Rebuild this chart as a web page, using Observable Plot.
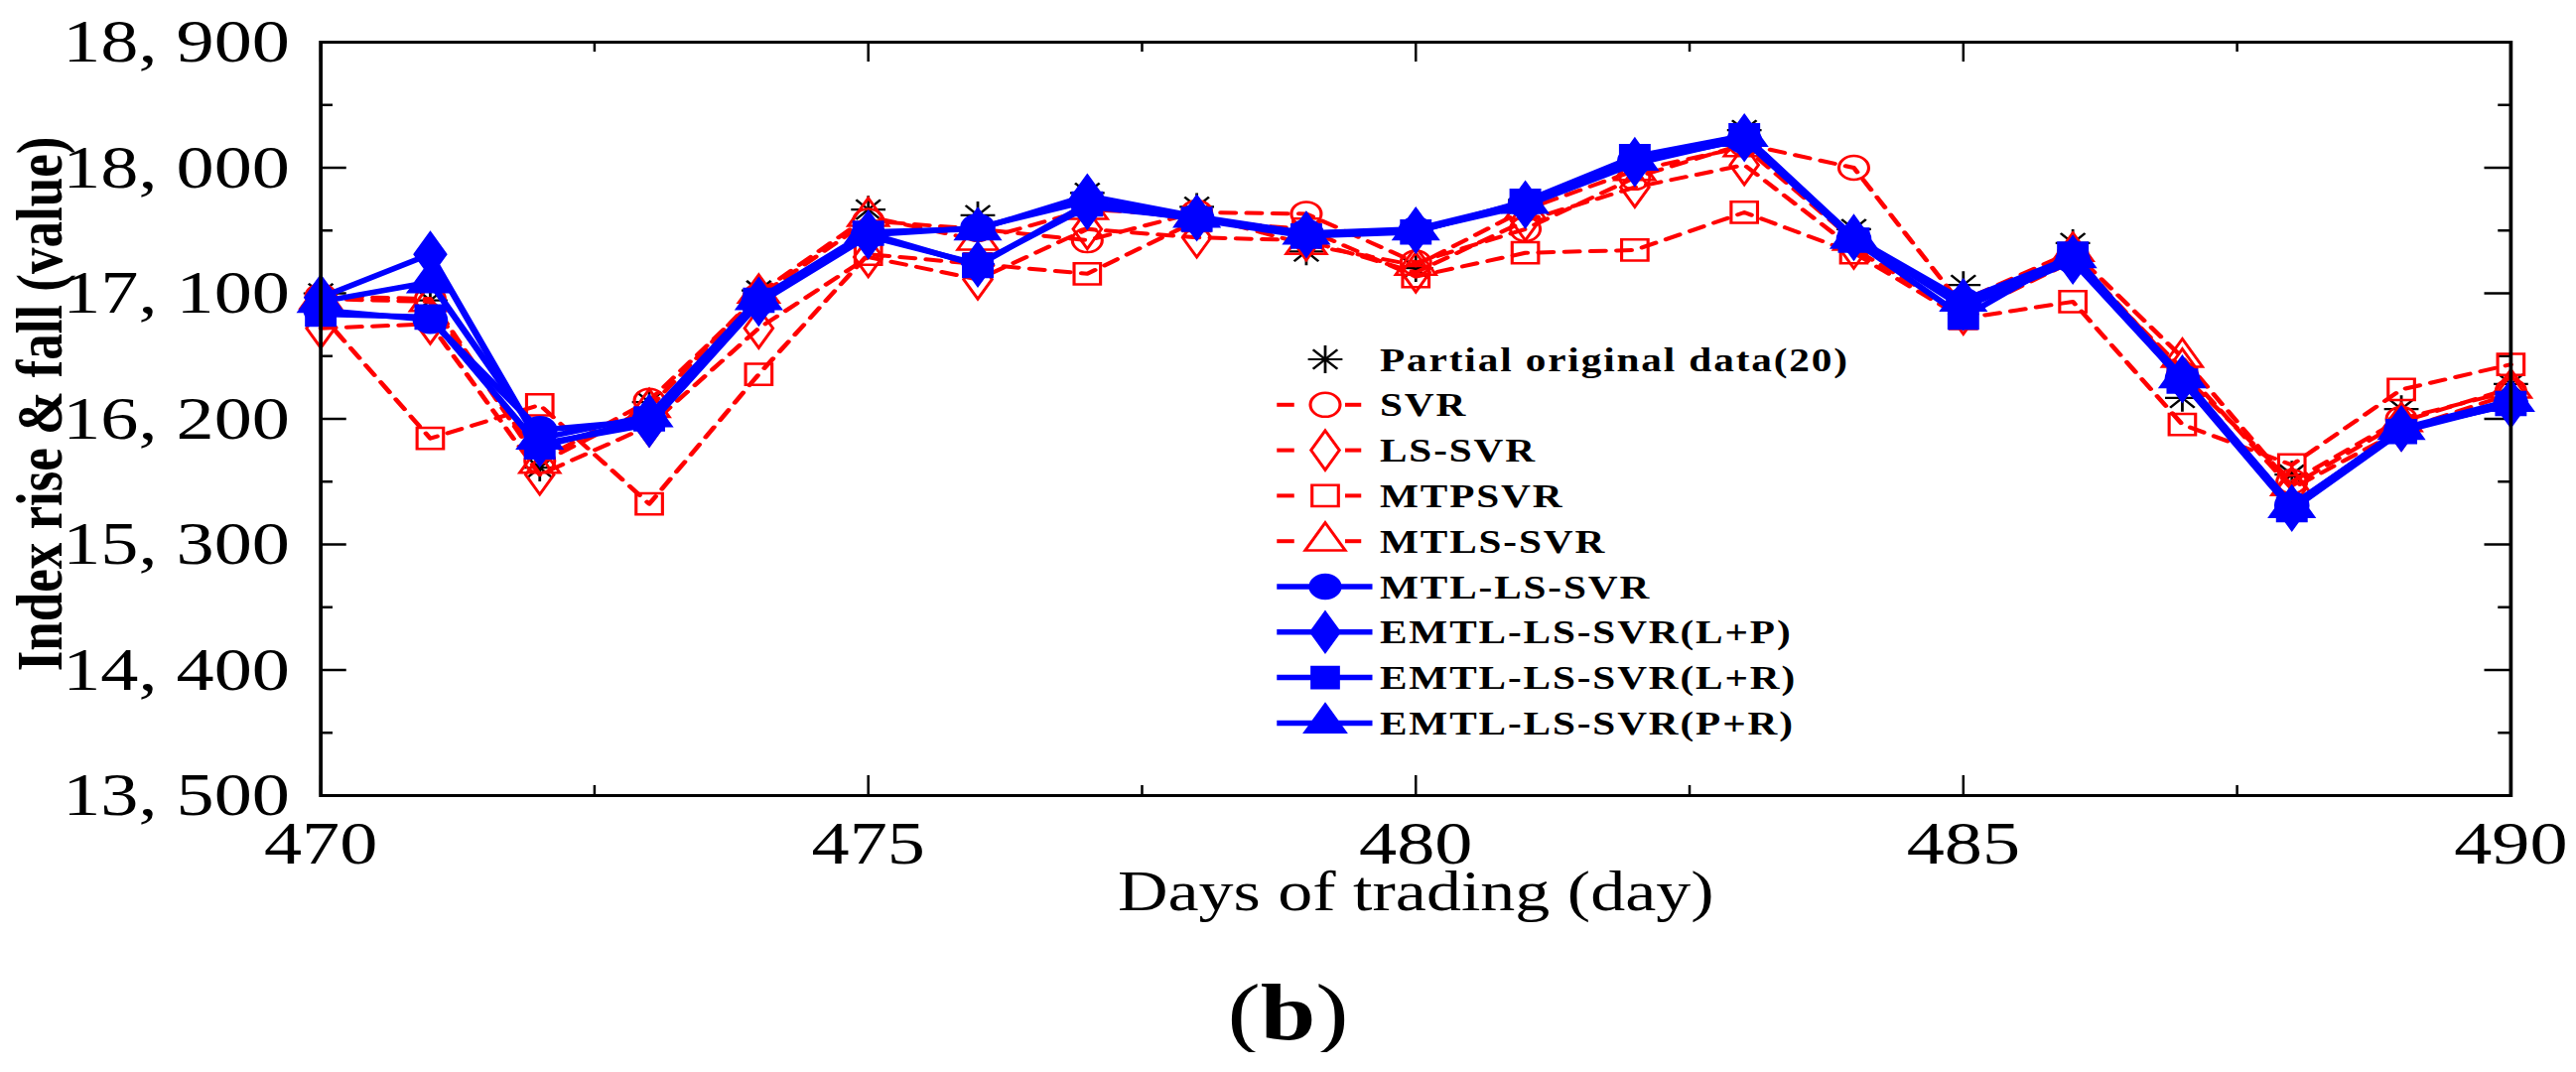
<!DOCTYPE html>
<html>
<head>
<meta charset="utf-8">
<script src="https://cdn.jsdelivr.net/npm/d3@7"></script>
<script src="https://cdn.jsdelivr.net/npm/@observablehq/plot@0.6"></script>
<style>
  html, body { margin: 0; padding: 0; background: #fff; overflow: hidden; }
  #wrap { width: 2076px; transform: scaleX(1.25); transform-origin: 0 0; font-family: "Liberation Serif", "Times New Roman", serif; }
  #chart svg { display: block; }
  #tag { text-align: center; font-size: 80px; line-height: 80px; margin-top: 20px; color: #000; }
</style>
</head>
<body>
<div id="wrap">
  <div id="chart"></div>
  <div id="tag">(<b>b</b>)</div>
</div>
<script>
// trading days shown in the panel
const days = [470, 471, 472, 473, 474, 475, 476, 477, 478, 479, 480, 481, 482, 483, 484, 485, 486, 487, 488, 489, 490];

// values (index points)
const actual   = [17100, 17050, 15850, 16320, 17120, 17700, 17660, 17820, 17720, 17400, 17280, 17770, 18050, 18270, 17560, 17160, 17460, 16350, 15800, 16270, 16450];
const svr      = [17080, 17060, 15900, 16330, 17080, 17620, 17560, 17480, 17680, 17670, 17320, 17560, 17930, 18170, 18000, 17000, 17380, 16520, 15750, 16200, 16400];
const lsSvr    = [16850, 16880, 15800, 16150, 16850, 17360, 17200, 17560, 17500, 17480, 17250, 17620, 17860, 18020, 17420, 16950, 17330, 16560, 15700, 16120, 16380];
const mtpSvr   = [16950, 16060, 16300, 15590, 16520, 17380, 17310, 17240, 17620, 17560, 17220, 17390, 17410, 17680, 17390, 16920, 17040, 16160, 15870, 16410, 16590];
const mtlsSvr  = [17060, 17040, 15880, 16280, 17100, 17650, 17480, 17700, 17660, 17450, 17300, 17700, 17980, 18150, 17480, 17050, 17400, 16640, 15720, 16180, 16420];
const mtlLsSvr = [16980, 16910, 16120, 16190, 17040, 17520, 17570, 17760, 17640, 17530, 17550, 17740, 18050, 18200, 17490, 17040, 17340, 16490, 15580, 16120, 16310];
const emtlLP   = [17070, 17380, 16020, 16160, 17030, 17510, 17310, 17720, 17640, 17520, 17550, 17730, 18030, 18210, 17500, 17000, 17330, 16480, 15560, 16130, 16300];
const emtlLR   = [16950, 16930, 16000, 16200, 17050, 17530, 17300, 17740, 17630, 17510, 17540, 17760, 18080, 18230, 17480, 16930, 17380, 16470, 15550, 16110, 16310];
const emtlPR   = [17040, 17180, 16060, 16220, 17060, 17540, 17560, 17800, 17650, 17530, 17560, 17750, 18060, 18230, 17500, 17050, 17360, 16500, 15570, 16130, 16330];

const seriesNames = ["Partial original data(20)", "SVR", "LS-SVR", "MTPSVR", "MTLS-SVR",
  "MTL-LS-SVR", "EMTL-LS-SVR(L+P)", "EMTL-LS-SVR(L+R)", "EMTL-LS-SVR(P+R)"];
const seriesValues = [actual, svr, lsSvr, mtpSvr, mtlsSvr, mtlLsSvr, emtlLP, emtlLR, emtlPR];

// axis ticks
const yTicks = [13500, 14400, 15300, 16200, 17100, 18000, 18900];
const yMinor = [13950, 14850, 15750, 16650, 17550, 18450];
const xTicks = [470, 475, 480, 485, 490];
const xMinor = [472.5, 477.5, 482.5, 487.5];

// how each series is drawn
const RED = "#ff0000", BLUE = "#0000ff";
const looks = [
  {kind: "star"},
  {color: RED, symbol: "circle", fill: "none", dash: "12,9", width: 4, r: 12},
  {color: RED, symbol: "diamond", fill: "none", dash: "12,9", width: 4, r: 12},
  {color: RED, symbol: "square", fill: "none", dash: "12,9", width: 4, r: 12},
  {color: RED, symbol: "triangle", fill: "none", dash: "12,9", width: 4, r: 12},
  {color: BLUE, symbol: "circle", fill: BLUE, dash: null, width: 5.5, r: 13},
  {color: BLUE, symbol: "diamond", fill: BLUE, dash: null, width: 5.5, r: 13},
  {color: BLUE, symbol: "square", fill: BLUE, dash: null, width: 5.5, r: 13},
  {color: BLUE, symbol: "triangle", fill: BLUE, dash: null, width: 5.5, r: 13}
];
const STAR_R = 9;

const rows = seriesNames.flatMap((name, i) =>
  days.map((day, j) => ({series: name, day, value: seriesValues[i][j]})));

const W = 2076, H = 960, mt = 42, mb = 159, ml = 258, mr = 53;
const plotW = W - ml - mr, plotH = H - mt - mb;
const fmt = d => d3.format(",")(d).replace(",", ", ");

const seriesMarks = seriesNames.flatMap((name, i) => {
  const look = looks[i];
  const data = rows.filter(d => d.series === name);
  if (look.kind === "star") {
    return [
      Plot.dot(data, {x: "day", y: "value", symbol: "plus", r: STAR_R, stroke: "black", strokeWidth: 2.2}),
      Plot.dot(data, {x: "day", y: "value", symbol: "times", r: STAR_R, stroke: "black", strokeWidth: 2.2})
    ];
  }
  return [
    Plot.line(data, {x: "day", y: "value", stroke: look.color, strokeWidth: look.width,
      strokeDasharray: look.dash, strokeLinejoin: "round"}),
    Plot.dot(data, {x: "day", y: "value", symbol: look.symbol, r: look.r,
      fill: look.fill, stroke: look.color, strokeWidth: 2.5})
  ];
});

const chart = Plot.plot({
  width: W,
  height: H,
  marginTop: mt,
  marginBottom: mb,
  marginLeft: ml,
  marginRight: mr,
  style: {fontFamily: "'Liberation Serif', 'Times New Roman', serif", fontSize: "61px", background: "white", color: "black"},
  x: {domain: [470, 490]},
  y: {domain: [13500, 18900]},
  marks: [
    Plot.axisX({ticks: xTicks, tickSize: 0, tickPadding: 25, label: null}),
    Plot.axisY({ticks: yTicks, tickSize: 0, tickPadding: 25, tickFormat: fmt, label: null}),
    // inward ticks on all four sides
    Plot.tickX(xTicks, {x: d => d, insetTop: plotH - 20, stroke: "black", strokeWidth: 2}),
    Plot.tickX(xTicks, {x: d => d, insetBottom: plotH - 20, stroke: "black", strokeWidth: 2}),
    Plot.tickX(xMinor, {x: d => d, insetTop: plotH - 10, stroke: "black", strokeWidth: 2}),
    Plot.tickX(xMinor, {x: d => d, insetBottom: plotH - 10, stroke: "black", strokeWidth: 2}),
    Plot.tickY(yTicks, {y: d => d, insetRight: plotW - 21, stroke: "black", strokeWidth: 2.5}),
    Plot.tickY(yTicks, {y: d => d, insetLeft: plotW - 21, stroke: "black", strokeWidth: 2.5}),
    Plot.tickY(yMinor, {y: d => d, insetRight: plotW - 10, stroke: "black", strokeWidth: 2.5}),
    Plot.tickY(yMinor, {y: d => d, insetLeft: plotW - 10, stroke: "black", strokeWidth: 2.5}),
    ...seriesMarks,
    Plot.frame({stroke: "black", strokeWidth: 3}),
    Plot.text(["Days of trading (day)"], {text: d => d, frameAnchor: "bottom", dy: 115, fontSize: 56}),
    Plot.text(["Index rise & fall (value)"], {text: d => d, frameAnchor: "left", textAnchor: "middle",
      dx: -226, dy: -15, rotate: -90, fontSize: 53, fontWeight: "bold"})
  ]
});

// legend inside the plot area
const lg = d3.select(chart).append("g")
  .attr("font-family", "'Liberation Serif', 'Times New Roman', serif")
  .attr("font-weight", "bold")
  .attr("font-size", 33)
  .attr("letter-spacing", 1.5)
  .attr("text-anchor", "start");

seriesNames.forEach((name, i) => {
  const look = looks[i];
  const cy = 362 + i * 45.8;
  const cx = 1068;
  if (look.kind === "star") {
    for (const s of [d3.symbolPlus, d3.symbolTimes]) {
      lg.append("path").attr("transform", `translate(${cx},${cy})`)
        .attr("d", d3.symbol(s, Math.PI * STAR_R * STAR_R)())
        .attr("fill", "none").attr("stroke", "black").attr("stroke-width", 2.2);
    }
  } else {
    if (look.dash) {
      for (const [a, b] of [[1029, 1043], [1084, 1097]]) {
        lg.append("line").attr("x1", a).attr("x2", b).attr("y1", cy).attr("y2", cy)
          .attr("stroke", look.color).attr("stroke-width", look.width);
      }
    } else {
      lg.append("line").attr("x1", 1029).attr("x2", 1106).attr("y1", cy).attr("y2", cy)
        .attr("stroke", look.color).attr("stroke-width", look.width);
    }
    const sym = {circle: d3.symbolCircle, diamond: d3.symbolDiamond, square: d3.symbolSquare, triangle: d3.symbolTriangle}[look.symbol];
    lg.append("path").attr("transform", `translate(${cx},${cy})`)
      .attr("d", d3.symbol(sym, Math.PI * 12 * 12)())
      .attr("fill", look.fill === "none" ? "white" : look.fill)
      .attr("stroke", look.color).attr("stroke-width", 2.5);
  }
  lg.append("text").attr("x", 1112).attr("y", cy).attr("dy", "0.35em")
    .attr("fill", "black").text(name);
});

document.getElementById("chart").append(chart);
</script>
</body>
</html>
